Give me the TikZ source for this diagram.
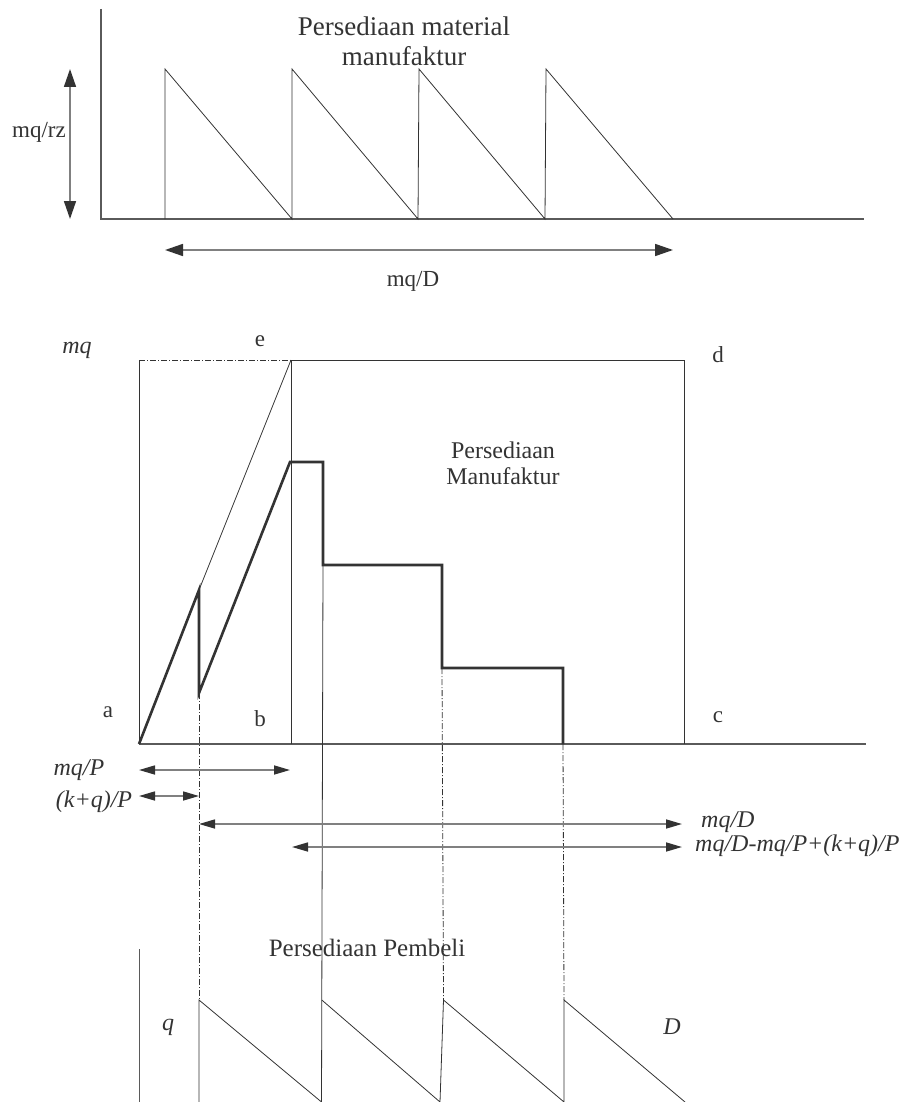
\documentclass[tikz,border=0pt]{standalone}
\usepackage{fontspec}
\setmainfont{Liberation Serif}
\usetikzlibrary{arrows.meta}
\definecolor{ink}{HTML}{333333}
\definecolor{shaft}{HTML}{808080}
\definecolor{axisgray}{HTML}{5A5A5A}
\begin{document}
\begin{tikzpicture}[x=1pt,y=-1pt,
  thinline/.style={draw=ink, line width=0.8pt},
  axisline/.style={draw=axisgray, line width=1.3pt},
  boldline/.style={draw=ink, line width=2.6pt, line join=miter},
  dashdotline/.style={draw=ink, line width=0.8pt, dash pattern=on 6pt off 2pt on 1pt off 2pt},
  dimarrow/.style={draw=shaft, line width=1.6pt, {Triangle[length=16pt,width=9pt,color=ink]}-{Triangle[length=16pt,width=9pt,color=ink]}},
  bigarrow/.style={draw=shaft, line width=1.6pt, {Triangle[length=18pt,width=12pt,color=ink]}-{Triangle[length=18pt,width=12pt,color=ink]}},
  lbl/.style={text=ink, font=\fontsize{23}{27}\selectfont, inner sep=0pt},
  ilbl/.style={text=ink, font=\fontsize{24}{28}\selectfont\itshape, inner sep=0pt},
  ttl/.style={text=ink, align=center, inner sep=0pt}
]
\useasboundingbox (0,0) rectangle (917,1102);

% ---------------- top chart ----------------
\coordinate (tTop) at (101,9);
\coordinate (tO) at (101,219);
\coordinate (tEnd) at (864,219);
\draw[axisline] (tTop) -- (tO) -- (tEnd);
\coordinate (s1b) at (165,219); \coordinate (s1t) at (165,69);
\coordinate (s2b) at (292,219); \coordinate (s2t) at (292,69);
\coordinate (s3b) at (418,219); \coordinate (s3t) at (419,69);
\coordinate (s4b) at (545,219); \coordinate (s4t) at (546,69);
\coordinate (s5b) at (673,219);
\draw[thinline] (s1b) -- (s1t) -- (s2b) -- (s2t) -- (s3b) -- (s3t) -- (s4b) -- (s4t) -- (s5b);
\coordinate (rzTop) at (70,69);
\coordinate (rzBot) at (70,219);
\draw[bigarrow] (rzTop) -- (rzBot);
\coordinate (mdL) at (165,250);
\coordinate (mdR) at (673,250);
\draw[bigarrow] (mdL) -- (mdR);
\node[lbl] (lrz) at (39,132) {mq/rz};
\node[lbl] (lmdtop) at (413,281) {mq/D};
\node[ttl, font=\fontsize{27}{30}\selectfont] (ttop) at (404,41) {Persediaan material\\manufaktur};

% ---------------- middle chart ----------------
\coordinate (ma) at (139,744);
\coordinate (mEnd) at (866,744);
\coordinate (mTopL) at (139,360);
\coordinate (mb) at (291,744);
\coordinate (me) at (291,360);
\coordinate (md) at (684,360);
\coordinate (mc) at (684,744);
\draw[axisline] (ma) -- (mEnd);
\draw[thinline] (ma) -- (mTopL);
\draw[dashdotline] (mTopL) -- (me);
\draw[thinline] (mb) -- (me) -- (md) -- (mc);
\coordinate (p1) at (199,590);
\draw[thinline] (p1) -- (me);
\coordinate (p2) at (199,693);
\coordinate (p3) at (290,462);
\coordinate (p4) at (323,462);
\coordinate (p5) at (323,565);
\coordinate (p6) at (442,565);
\coordinate (p7) at (442,668);
\coordinate (p8) at (563,668);
\coordinate (p9) at (563,744);
\draw[boldline] (ma) -- (p1) -- (p2) -- (p3) -- (p4) -- (p5) -- (p6) -- (p7) -- (p8) -- (p9);

% connecting verticals
\coordinate (v2b) at (321.5,1102);
\draw[thinline] (p5) -- (v2b);
\coordinate (b1t) at (199,1000);
\coordinate (b3t) at (443.5,1000);
\coordinate (b4t) at (564,1000);
\draw[dashdotline] (p2) -- (b1t);
\draw[dashdotline] (p7) -- (b3t);
\draw[dashdotline] (p9) -- (b4t);

% labels middle
\node[lbl] (la) at (108,712) {a};
\node[lbl] (lb) at (260,719) {b};
\node[lbl] (le) at (260,341) {e};
\node[lbl] (ld) at (718,355) {d};
\node[lbl] (lc) at (718,717) {c};
\node[ilbl] (lmq) at (77,350) {mq};
\node[ttl, font=\fontsize{24}{26}\selectfont] (tmid) at (503,463) {Persediaan\\Manufaktur};

% dimension arrows
\coordinate (d1L) at (139,770); \coordinate (d1R) at (290,770);
\coordinate (d2L) at (139,796); \coordinate (d2R) at (199,796);
\coordinate (d3L) at (199,824); \coordinate (d3R) at (682,824);
\coordinate (d4L) at (292,847); \coordinate (d4R) at (682,847);
\draw[dimarrow] (d1L) -- (d1R);
\draw[dimarrow] (d2L) -- (d2R);
\draw[dimarrow] (d3L) -- (d3R);
\draw[dimarrow] (d4L) -- (d4R);
\node[ilbl] (lmqP) at (79,770) {mq/P};
\node[ilbl] (lkqP) at (94,802) {(k+q)/P};
\node[ilbl, anchor=west] (lmqD) at (701,822) {mq/D};
\node[ilbl, anchor=west] (llong) at (695,846) {mq/D-mq/P+(k+q)/P};

% ---------------- bottom chart ----------------
\coordinate (bTop) at (139,949);
\coordinate (bBot) at (139,1102);
\draw[axisline, line width=1pt] (bTop) -- (bBot);
\coordinate (b1b) at (199,1102);
\coordinate (b2t) at (321.8,1000);
\coordinate (b3b) at (440,1102);
\coordinate (b4b) at (564,1102);
\coordinate (b5b) at (685,1102);
\draw[thinline] (b1b) -- (b1t) -- (v2b);
\draw[thinline] (b2t) -- (b3b) -- (b3t) -- (b4b) -- (b4t) -- (b5b);
\node[ttl, font=\fontsize{25}{28}\selectfont] (tbot) at (367,948) {Persediaan Pembeli};
\node[ilbl] (lq) at (168,1027) {q};
\node[ilbl] (lD) at (672,1027) {D};
\end{tikzpicture}
\end{document}
